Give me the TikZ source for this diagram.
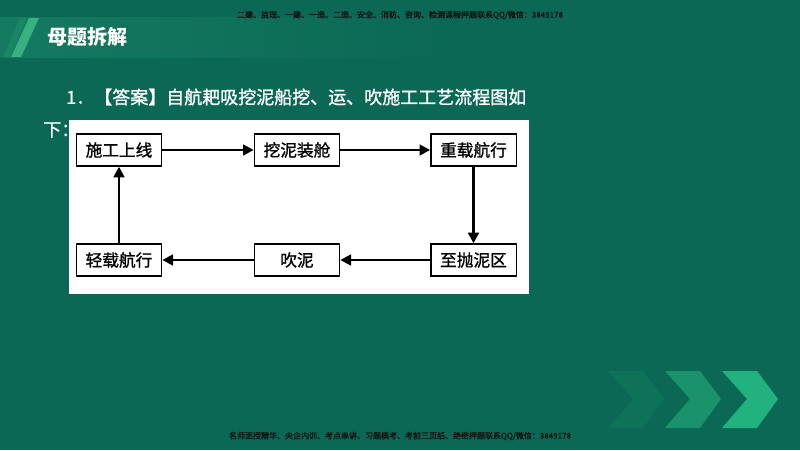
\documentclass[tikz,border=0pt]{standalone}
\usepackage{fontspec}
\setmainfont{Noto Sans CJK SC}
\newfontfamily\cjkmed[FakeBold=1.2]{Noto Sans CJK SC}
\usetikzlibrary{arrows.meta}
\definecolor{bg}{RGB}{10,104,84}
\definecolor{barL}{RGB}{20,122,96}
\definecolor{stripeA}{RGB}{56,176,130}
\definecolor{stripeB}{RGB}{30,140,104}
\definecolor{chev3}{RGB}{34,178,128}
\definecolor{chev2}{RGB}{26,146,108}
\definecolor{chev1}{RGB}{14,114,89}
\definecolor{wm}{RGB}{20,20,20}
\tikzset{
  flowbox/.style={draw=black, line width=1pt, fill=white, minimum width=64pt, minimum height=24pt, inner sep=0pt, font=\cjkmed\fontsize{12.5pt}{14pt}\selectfont},
  flowarrow/.style={line width=1.9pt, -{Triangle[length=8pt,width=8pt]}},
  wmtext/.style={text=wm, font=\cjkmed\fontsize{6pt}{7pt}\selectfont, inner sep=0pt}
}
\begin{document}
\begin{tikzpicture}[x=0.75pt,y=-0.75pt]
\useasboundingbox (0,0) rectangle (800,450);
\fill[bg] (0,0) rectangle (800,450);
% header bar
\shade[left color=barL, right color=bg] (0,17) rectangle (460,57);
\fill[stripeB, opacity=0.7] (20,18) -- (27,18) -- (10,57) -- (3,57) -- cycle;
\fill[stripeA] (29,18) -- (39,18) -- (21,57) -- (11,57) -- cycle;
\node[anchor=west, text=white, font=\fontsize{15pt}{17pt}\selectfont\bfseries, inner sep=0pt] (hdr) at (47,37) {母题拆解};
% watermarks
\node[wmtext] (wmtop) at (400,15) {二建、监理、一建、一造、二造、安全、消防、咨询、检测课程押题联系QQ/微信：3849178};
\node[wmtext] (wmbot) at (400,436) {名师面授精华、央企内训、考点串讲、习题模考、考前三页纸、绝密押题联系QQ/微信：3849178};
% title
\node[anchor=west, text=white, font=\cjkmed\fontsize{13.5pt}{16pt}\selectfont, inner sep=0pt] (title) at (66,97) {1．【答案】自航耙吸挖泥船挖、运、吹施工工艺流程图如};
\node[anchor=west, text=white, font=\cjkmed\fontsize{13.5pt}{16pt}\selectfont, inner sep=0pt] (title2) at (43,130) {下：};
% panel
\fill[white] (69,120) rectangle (529,294);
% boxes
\node[flowbox] (a) at (119,150) {施工上线};
\node[flowbox] (b) at (297,150) {挖泥装舱};
\node[flowbox] (c) at (473.5,150) {重载航行};
\node[flowbox] (d) at (473.5,260) {至抛泥区};
\node[flowbox] (e) at (297,260) {吹泥};
\node[flowbox] (f) at (119,260) {轻载航行};
\draw[flowarrow] (a) -- (b);
\draw[flowarrow] (b) -- (c);
\draw[flowarrow] (c) -- (d);
\draw[flowarrow] (d) -- (e);
\draw[flowarrow] (e) -- (f);
\draw[flowarrow] (f) -- (a);
% chevrons
\fill[chev1] (608,371) -- (643,371) -- (664,399) -- (643,428) -- (608,428) -- (633,399) -- cycle;
\fill[chev2] (665,371) -- (700,371) -- (721,399) -- (700,428) -- (665,428) -- (690,399) -- cycle;
\fill[chev3] (722,371) -- (757,371) -- (778,399) -- (757,428) -- (722,428) -- (747,399) -- cycle;
\end{tikzpicture}
\end{document}
